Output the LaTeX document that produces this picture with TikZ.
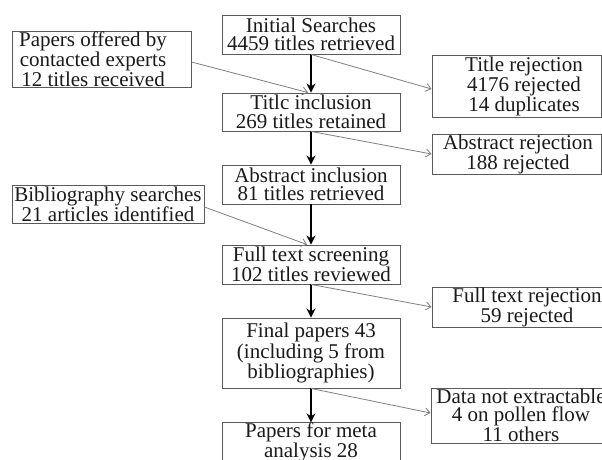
\documentclass[tikz,border=0pt]{standalone}
\usepackage{fontspec}
\setmainfont{Liberation Serif}
\usetikzlibrary{arrows.meta}
\definecolor{boxline}{HTML}{5A5A5A}
\definecolor{thin}{HTML}{808080}
\definecolor{txt}{HTML}{1A1A1A}
\begin{document}
\begin{tikzpicture}[x=1pt,y=-1pt,
  every node/.style={font=\fontsize{21}{18.5}\selectfont, text=txt, align=center, inner sep=0pt},
  box/.style={draw=boxline, line width=0.9pt},
  mainbox/.style={box, minimum width=178pt},
  flow/.style={line width=2pt, -{Stealth[length=9pt,width=9pt]}},
  side/.style={draw=thin, line width=0.8pt, -{Straight Barb[length=5pt,width=8pt]}}]
\useasboundingbox (0,0) rectangle (602,460);
\clip (0,0) rectangle (602,460);
\fill[white] (0,0) rectangle (602,460);
% main column
\node[mainbox, minimum height=39pt] (init) at (311,34.5) {Initial Searches\\4459 titles retrieved};
\node[mainbox, minimum height=38pt] (tinc) at (311,112) {Titlc inclusion\\269 titles retained};
\node[mainbox, minimum height=39pt] (ainc) at (311,184.5) {Abstract inclusion\\81 titles retrieved};
\node[mainbox, minimum height=39pt] (fts) at (311,264.5) {Full text screening\\102 titles reviewed};
\node[mainbox, minimum height=70pt] (fin) at (311,353) {Final papers 43\\(including 5 from\\bibliographies)};
\node[mainbox, minimum height=39pt] (meta) at (311,442.5) {Papers for meta\\analysis 28};
% left boxes
\node[box, minimum width=179pt, minimum height=56pt] (pe) at (101.5,59) {};
\node (pet) at (93,59) {Papers offered by\\contacted experts\\12 titles received};
\node[box, minimum width=192pt, minimum height=38pt] (bib) at (108,204) {Bibliography searches\\21 articles identified};
% right boxes
\node[box, minimum width=169pt, minimum height=62pt] (trej) at (516.5,86) {};
\node (trejt) at (524,86) {Title rejection\\4176 rejected\\14 duplicates};
\node[box, minimum width=169pt, minimum height=40pt] (arej) at (516.5,154) {};
\node (arejt) at (518,154) {Abstract rejection\\188 rejected};
\node[box, minimum width=190pt, minimum height=40pt] (ftrej) at (527,307) {Full text rejection\\59 rejected};
\node[box, minimum width=180pt, minimum height=55pt] (dne) at (521,415.5) {Data not extractable\\4 on pollen flow\\11 others};
% main flow
\draw[flow] (init) -- (tinc);
\draw[flow] (tinc) -- (ainc);
\draw[flow] (ainc) -- (fts);
\draw[flow] (fts) -- (fin);
\draw[flow] (fin) -- (meta);
% side arrows
\draw[side] ([yshift=-3pt]pe.east) -- ([xshift=-3pt]tinc.north);
\draw[side] ([yshift=-3pt]bib.east) -- ([xshift=-4pt]fts.north);
\draw[side] (init.south) -- ([yshift=-3pt]trej.west);
\draw[side] (tinc.south) -- (arej.west);
\draw[side] (fts.south) -- (ftrej.west);
\draw[side] (fin.south) -- ([yshift=2.5pt]dne.west);
\end{tikzpicture}
\end{document}
